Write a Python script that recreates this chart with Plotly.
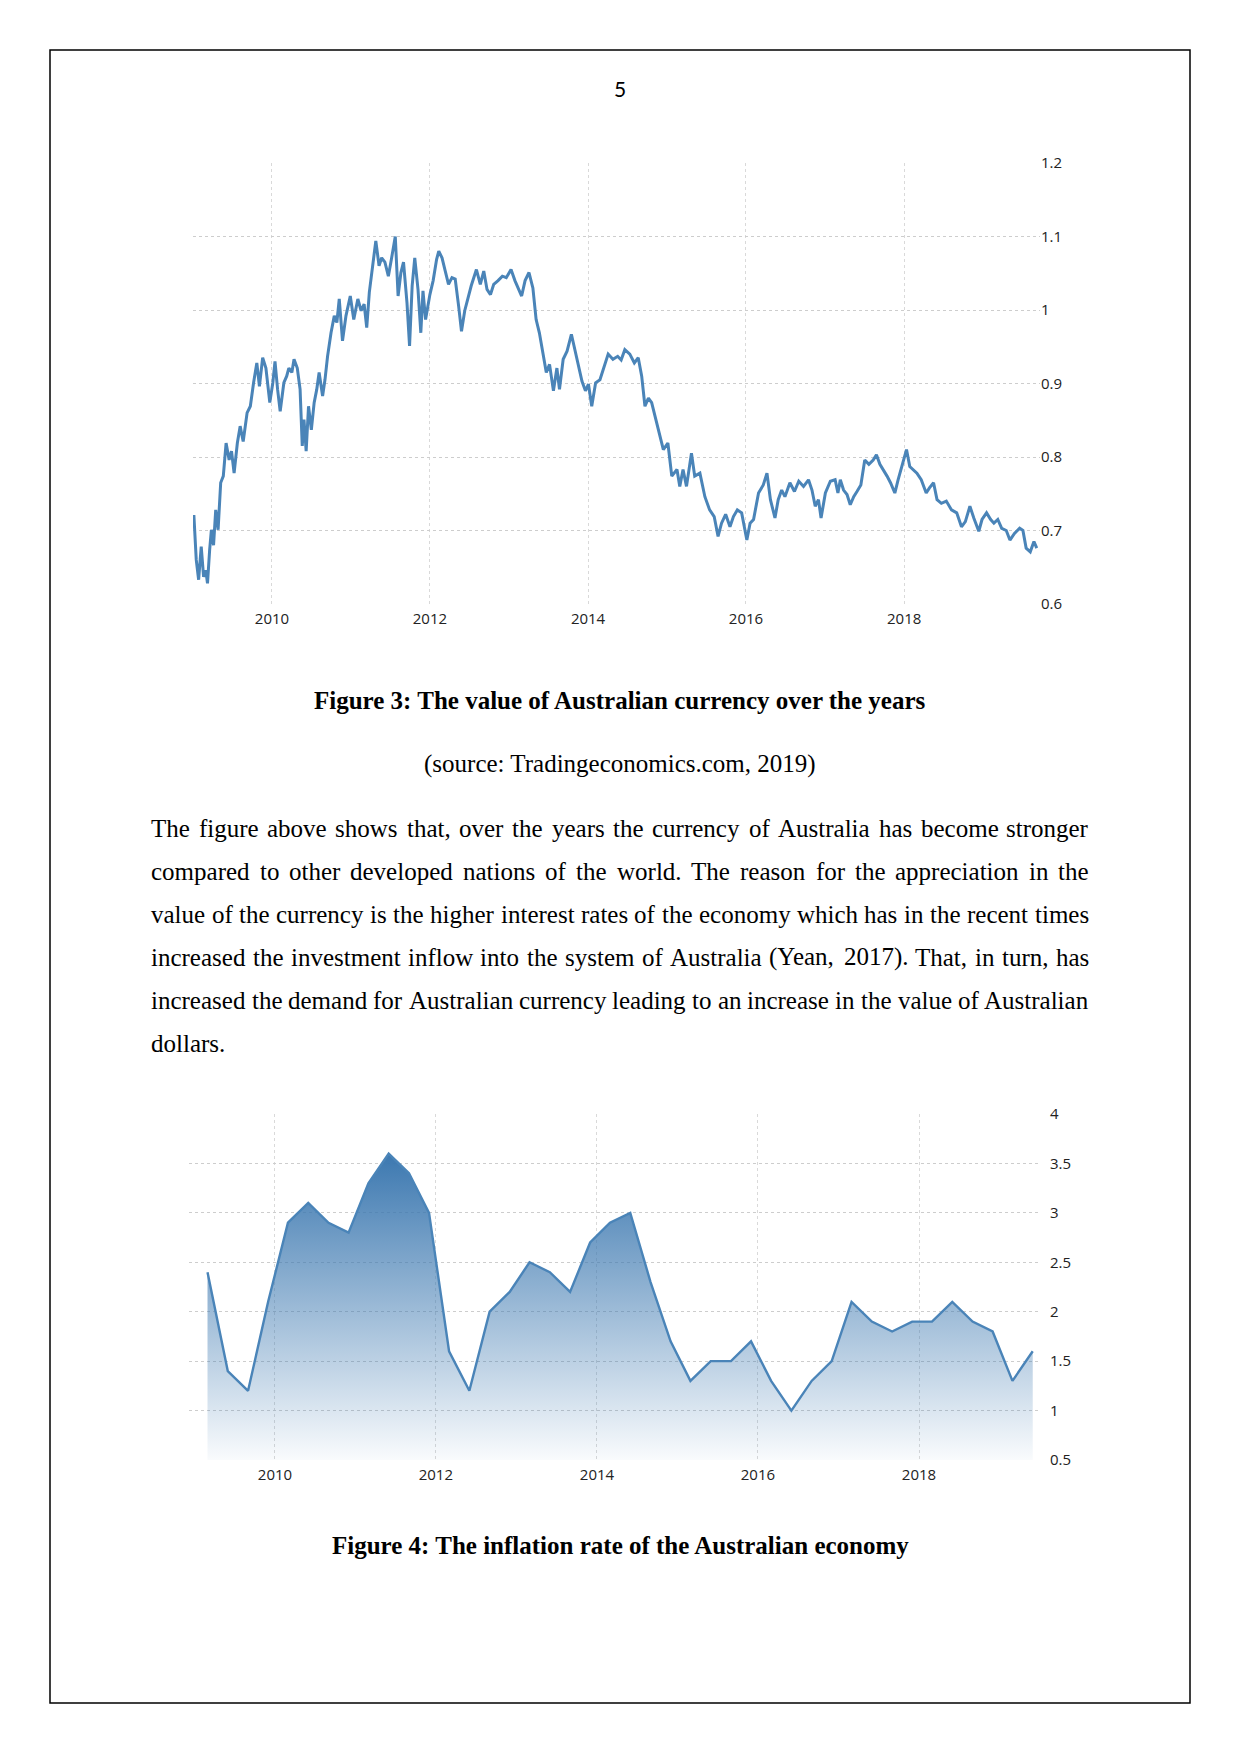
import plotly.graph_objects as go

W, H = 1241, 1754

# ---------------- Figure 3: AUD value ----------------
aud_dates = [
    "2009-01-01", "2009-01-05", "2009-01-16", "2009-01-27", "2009-02-08", "2009-02-19", "2009-03-01", "2009-03-09",
    "2009-03-19", "2009-03-27", "2009-04-06", "2009-04-16", "2009-04-27", "2009-05-09", "2009-05-21", "2009-06-03",
    "2009-06-17", "2009-06-28", "2009-07-10", "2009-07-25", "2009-08-07", "2009-08-21", "2009-09-08", "2009-09-23",
    "2009-10-08", "2009-10-23", "2009-11-04", "2009-11-19", "2009-12-04", "2009-12-22",
    "2010-01-05", "2010-01-15", "2010-01-27", "2010-02-08", "2010-02-25", "2010-03-10", "2010-03-20", "2010-04-03",
    "2010-04-13", "2010-04-28", "2010-05-11", "2010-05-21", "2010-05-29", "2010-06-08", "2010-06-19", "2010-07-02",
    "2010-07-15", "2010-07-27", "2010-08-07", "2010-08-23", "2010-09-03", "2010-09-15", "2010-10-01", "2010-10-16",
    "2010-10-28", "2010-11-08", "2010-11-23", "2010-12-09", "2010-12-29",
    "2011-01-14", "2011-02-02", "2011-02-17", "2011-03-03", "2011-03-15", "2011-03-27", "2011-04-10", "2011-04-26",
    "2011-05-11", "2011-05-23", "2011-06-07", "2011-06-23", "2011-07-07", "2011-07-25", "2011-08-07", "2011-08-20",
    "2011-09-01", "2011-09-17", "2011-09-29", "2011-10-11", "2011-10-23", "2011-11-07", "2011-11-20", "2011-11-30",
    "2011-12-12",
    "2012-01-01", "2012-01-16", "2012-02-01", "2012-02-11", "2012-02-26", "2012-03-12", "2012-03-27", "2012-04-12",
    "2012-04-27", "2012-05-13", "2012-05-26", "2012-06-10", "2012-06-25", "2012-07-10", "2012-08-03", "2012-08-21",
    "2012-09-06", "2012-09-21", "2012-10-07", "2012-10-22", "2012-11-11", "2012-12-01", "2012-12-19",
    "2013-01-10", "2013-01-28", "2013-02-13", "2013-02-28", "2013-03-16", "2013-04-03", "2013-04-21", "2013-05-06",
    "2013-05-21", "2013-06-07", "2013-06-22", "2013-07-07", "2013-07-25", "2013-08-10", "2013-08-22", "2013-09-08",
    "2013-09-26", "2013-10-16", "2013-11-04", "2013-11-19", "2013-12-04", "2013-12-20",
    "2014-01-03", "2014-01-18", "2014-02-05", "2014-02-25", "2014-03-13", "2014-04-04", "2014-04-26", "2014-05-18",
    "2014-06-03", "2014-06-20", "2014-07-13", "2014-08-03", "2014-08-21", "2014-09-06", "2014-09-21", "2014-10-07",
    "2014-10-22", "2014-11-07", "2014-11-30", "2014-12-15",
    "2015-01-05", "2015-01-23", "2015-02-16", "2015-03-01", "2015-03-16", "2015-04-01", "2015-04-24", "2015-05-09",
    "2015-06-02", "2015-06-25", "2015-07-17", "2015-08-07", "2015-08-25", "2015-09-10", "2015-09-29", "2015-10-19",
    "2015-11-04", "2015-11-22", "2015-12-12",
    "2016-01-05", "2016-01-20", "2016-02-05", "2016-02-28", "2016-03-21", "2016-04-07", "2016-04-23", "2016-05-14",
    "2016-05-29", "2016-06-14", "2016-06-29", "2016-07-22", "2016-08-12", "2016-09-01", "2016-09-23", "2016-10-16",
    "2016-11-01", "2016-11-16", "2016-12-01", "2016-12-13",
    "2017-01-02", "2017-01-25", "2017-02-16", "2017-03-01", "2017-03-12", "2017-03-27", "2017-04-12", "2017-04-27",
    "2017-05-13", "2017-05-28", "2017-06-15", "2017-07-03", "2017-07-22", "2017-08-11", "2017-08-26", "2017-09-11",
    "2017-09-26", "2017-10-14", "2017-10-30", "2017-11-19", "2017-12-04", "2017-12-24",
    "2018-01-12", "2018-01-27", "2018-02-13", "2018-03-01", "2018-03-21", "2018-04-13", "2018-04-28", "2018-05-17",
    "2018-06-02", "2018-06-22", "2018-07-15", "2018-08-08", "2018-09-01", "2018-09-23", "2018-10-11", "2018-11-01",
    "2018-11-19", "2018-12-12", "2018-12-27",
    "2019-01-17", "2019-02-05", "2019-02-20", "2019-03-10", "2019-03-28", "2019-04-18", "2019-05-05", "2019-05-26",
    "2019-06-19", "2019-07-04", "2019-07-19", "2019-08-07", "2019-08-24", "2019-09-06",
]
aud_values = [
    0.705, 0.721, 0.660, 0.633, 0.678, 0.637, 0.646, 0.628,
    0.674, 0.701, 0.680, 0.728, 0.701, 0.765, 0.774, 0.819,
    0.796, 0.808, 0.778, 0.819, 0.842, 0.821, 0.860, 0.869,
    0.901, 0.928, 0.896, 0.935, 0.921, 0.874,
    0.901, 0.930, 0.892, 0.862, 0.901, 0.910, 0.921, 0.915,
    0.933, 0.921, 0.892, 0.815, 0.851, 0.808, 0.869, 0.837,
    0.874, 0.892, 0.915, 0.883, 0.905, 0.937, 0.969, 0.992,
    0.983, 1.015, 0.958, 0.992, 1.019,
    0.987, 1.015, 0.999, 1.008, 0.976, 1.024, 1.060, 1.094,
    1.060, 1.071, 1.065, 1.046, 1.069, 1.100, 1.019, 1.051,
    1.065, 1.010, 0.951, 1.033, 1.071, 1.028, 0.969, 1.026,
    0.987,
    1.021, 1.040, 1.069, 1.080, 1.071, 1.053, 1.035, 1.044,
    1.042, 1.005, 0.971, 0.999, 1.017, 1.033, 1.055, 1.035,
    1.053, 1.028, 1.021, 1.035, 1.040, 1.046, 1.044,
    1.055, 1.040, 1.028, 1.019, 1.040, 1.051, 1.030, 0.987,
    0.969, 0.942, 0.915, 0.926, 0.890, 0.921, 0.892, 0.933,
    0.944, 0.967, 0.942, 0.921, 0.903, 0.890,
    0.899, 0.869, 0.901, 0.905, 0.919, 0.940, 0.933, 0.937,
    0.932, 0.946, 0.940, 0.928, 0.935, 0.910, 0.869, 0.880,
    0.874, 0.855, 0.828, 0.810,
    0.819, 0.774, 0.783, 0.760, 0.783, 0.760, 0.805, 0.774,
    0.778, 0.746, 0.728, 0.719, 0.692, 0.710, 0.722, 0.705,
    0.719, 0.728, 0.724,
    0.687, 0.710, 0.715, 0.751, 0.762, 0.778, 0.742, 0.717,
    0.742, 0.755, 0.746, 0.765, 0.753, 0.767, 0.760, 0.769,
    0.755, 0.733, 0.742, 0.717,
    0.751, 0.767, 0.769, 0.751, 0.769, 0.755, 0.749, 0.735,
    0.746, 0.753, 0.762, 0.796, 0.790, 0.796, 0.803, 0.790,
    0.783, 0.774, 0.765, 0.751, 0.769, 0.790,
    0.810, 0.787, 0.783, 0.778, 0.769, 0.751, 0.758, 0.765,
    0.742, 0.737, 0.740, 0.728, 0.724, 0.705, 0.712, 0.733,
    0.717, 0.699, 0.715,
    0.724, 0.715, 0.710, 0.715, 0.703, 0.700, 0.687, 0.696,
    0.703, 0.700, 0.676, 0.671, 0.685, 0.676,
]
aud_ticks = [0.6, 0.7, 0.8, 0.9, 1.0, 1.1, 1.2]

# ---------------- Figure 4: inflation rate ----------------
cpi_dates = [
    "2009-03-01", "2009-06-01", "2009-09-01", "2009-12-01",
    "2010-03-01", "2010-06-01", "2010-09-01", "2010-12-01",
    "2011-03-01", "2011-06-01", "2011-09-01", "2011-12-01",
    "2012-03-01", "2012-06-01", "2012-09-01", "2012-12-01",
    "2013-03-01", "2013-06-01", "2013-09-01", "2013-12-01",
    "2014-03-01", "2014-06-01", "2014-09-01", "2014-12-01",
    "2015-03-01", "2015-06-01", "2015-09-01", "2015-12-01",
    "2016-03-01", "2016-06-01", "2016-09-01", "2016-12-01",
    "2017-03-01", "2017-06-01", "2017-09-01", "2017-12-01",
    "2018-03-01", "2018-06-01", "2018-09-01", "2018-12-01",
    "2019-03-01", "2019-06-01",
]
cpi_values = [
    2.4, 1.4, 1.2, 2.1,
    2.9, 3.1, 2.9, 2.8,
    3.3, 3.6, 3.4, 3.0,
    1.6, 1.2, 2.0, 2.2,
    2.5, 2.4, 2.2, 2.7,
    2.9, 3.0, 2.3, 1.7,
    1.3, 1.5, 1.5, 1.7,
    1.3, 1.0, 1.3, 1.5,
    2.1, 1.9, 1.8, 1.9,
    1.9, 2.1, 1.9, 1.8,
    1.3, 1.6,
]
cpi_ticks = [0.5, 1, 1.5, 2, 2.5, 3, 3.5, 4]

year_ticks = ["2010-01-01", "2012-01-01", "2014-01-01", "2016-01-01", "2018-01-01"]
year_labels = ["2010", "2012", "2014", "2016", "2018"]

# ---------------- Text ----------------
page_number = "5"
caption3 = "Figure 3: The value of Australian currency over the years"
source3 = "(source: Tradingeconomics.com, 2019)"
body_lines = [
    "The figure above shows that, over the years the currency of Australia has become stronger",
    "compared to other developed nations of the world. The reason for the appreciation in the",
    "value of the currency is the higher interest rates of the economy which has in the recent times",
    "increased the investment inflow into the system of Australia (Yean, 2017). That, in turn, has",
    "increased the demand for Australian currency leading to an increase in the value of Australian",
    "dollars.",
]
caption4 = "Figure 4: The inflation rate of the Australian economy"

LINE = "#4a84b8"
TICKFONT = dict(family="Open Sans, DejaVu Sans, sans-serif", size=15, color="#222222")

fig = go.Figure()

fig.add_trace(go.Scatter(
    x=aud_dates, y=aud_values, mode="lines",
    line=dict(color=LINE, width=3), xaxis="x", yaxis="y",
    showlegend=False, hoverinfo="skip",
))

fig.add_trace(go.Scatter(
    x=cpi_dates, y=cpi_values, mode="lines",
    line=dict(color="#4a84b8", width=2.4), fill="tozeroy",
    fillgradient=dict(
        type="vertical", start=0.5, stop=3.6,
        colorscale=[[0, "rgba(60,120,176,0.03)"], [1, "rgba(60,120,176,1.0)"]],
    ),
    xaxis="x2", yaxis="y2", showlegend=False, hoverinfo="skip",
))


def px_x(p):
    return p / W


def px_y(p):
    return 1 - p / H


common_x = dict(
    type="date", tickvals=year_ticks, ticktext=year_labels, showgrid=True,
    gridcolor="#d9d9d9", griddash="dot", gridwidth=1, showline=False,
    zeroline=False, ticks="", tickfont=TICKFONT, fixedrange=True, automargin=False,
)
common_y = dict(
    side="right", showgrid=True, gridcolor="#cdcdcd", griddash="dot", gridwidth=1,
    showline=False, zeroline=False, ticks="", tickfont=TICKFONT, fixedrange=True, automargin=False,
)

layout = dict(
    width=W, height=H, margin=dict(l=0, r=0, t=0, b=0, pad=0, autoexpand=False), autosize=False,
    paper_bgcolor="white", plot_bgcolor="rgba(0,0,0,0)", showlegend=False,
    xaxis=dict(common_x, domain=[px_x(193), px_x(1040)], range=["2009-01-01", "2019-09-21"],
               anchor="y", ticklabelstandoff=4),
    yaxis=dict(common_y, domain=[px_y(604), px_y(163)], range=[0.6, 1.2], tickvals=aud_ticks,
               anchor="x", ticklabelstandoff=0),
    xaxis2=dict(common_x, domain=[px_x(189), px_x(1040)], range=["2008-12-07", "2019-07-04"],
                anchor="y2", ticklabelstandoff=4),
    yaxis2=dict(common_y, domain=[px_y(1460), px_y(1114)], range=[0.5, 4.0], tickvals=cpi_ticks,
                anchor="x2", ticklabelstandoff=9),
)
fig.update_layout(**layout)

# page border
fig.add_shape(type="rect", xref="paper", yref="paper",
              x0=px_x(50), x1=px_x(1190), y0=px_y(1703), y1=px_y(50),
              line=dict(color="black", width=1.5), layer="above")

SERIF = "Liberation Serif, Times New Roman, serif"
FS = 25


def add_text(text, x, y, size=FS, bold=False, family=SERIF, xanchor="center"):
    t = "<b>%s</b>" % text if bold else text
    fig.add_annotation(text=t, xref="paper", yref="paper", x=px_x(x), y=px_y(y),
                       xanchor=xanchor, yanchor="middle", showarrow=False,
                       borderpad=0, borderwidth=0,
                       font=dict(family=family, size=size, color="black"))


add_text(page_number, 620, 89, size=21, family="Lato, Noto Sans, sans-serif")
add_text(caption3, 620, 700, bold=True)
add_text(source3, 620, 764)
add_text(caption4, 620, 1545, bold=True)

# Times-metric widths (per 1000 em) for justification
TW = dict(zip("abcdefghijklmnopqrstuvwxyz",
              [444, 500, 444, 500, 444, 333, 500, 500, 278, 278, 500, 278, 778,
               500, 500, 500, 500, 333, 389, 278, 500, 500, 722, 500, 500, 444]))
TW.update(dict(zip("ABCDEFGHIJKLMNOPQRSTUVWXYZ",
                   [722, 667, 667, 722, 611, 556, 722, 722, 333, 389, 722, 611, 889,
                    722, 722, 556, 722, 667, 556, 611, 722, 722, 944, 722, 722, 611])))
TW.update({c: 500 for c in "0123456789"})
TW.update({",": 250, ".": 250, "(": 333, ")": 333, ":": 278, " ": 250})


def tw(s):
    return sum(TW.get(c, 500) for c in s) * FS / 1000.0


LEFT, RIGHT = 151, 1089
baselines = [836, 879, 922, 965, 1008, 1051]
for i, line in enumerate(body_lines):
    yc = baselines[i] - 8
    words = line.split()
    if i == len(body_lines) - 1 or len(words) == 1:
        add_text(line, LEFT, yc, xanchor="left")
        continue
    widths = [tw(w) for w in words]
    gap = (RIGHT - LEFT - sum(widths)) / (len(words) - 1)
    x = LEFT
    for j, w in enumerate(words):
        if j == len(words) - 1:
            add_text(w, RIGHT, yc, xanchor="right")
        else:
            add_text(w, x, yc, xanchor="left")
        x += widths[j] + gap

fig.write_html(
    "out.html",
    config={"displayModeBar": False, "responsive": False},
    post_script=(
        "document.documentElement.style.margin='0';"
        "document.documentElement.style.overflow='hidden';"
        "document.body.style.margin='0';document.body.style.padding='0';"
        "document.body.style.overflow='hidden';"
        "var gd=document.getElementById('{plot_id}');"
        "gd.style.position='fixed';gd.style.top='0px';gd.style.left='0px';"
    ),
)
